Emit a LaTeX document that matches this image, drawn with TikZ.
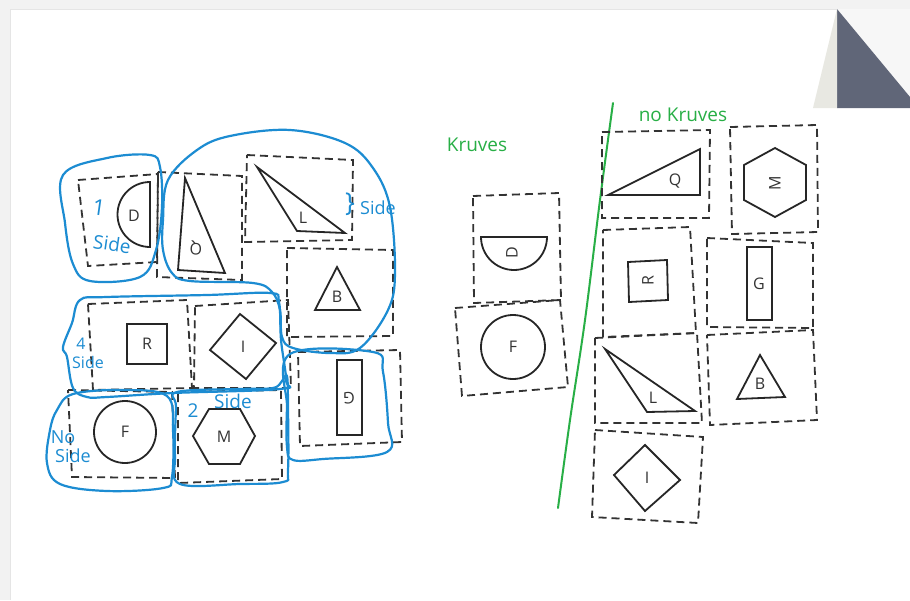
\documentclass[tikz,border=0pt]{standalone}
\usepackage{fontspec}
\setmainfont{Open Sans}
\usetikzlibrary{positioning}
\definecolor{penblue}{RGB}{28,140,210}
\definecolor{pengreen}{RGB}{40,175,70}
\definecolor{foldgray}{RGB}{96,102,120}
\definecolor{foldlight}{RGB}{232,232,226}
\tikzstyle{tile}      = [draw=black!80, line width=1.8pt, dash pattern=on 8pt off 5pt]
\tikzstyle{piece}     = [draw=black!85, line width=1.8pt, line join=miter]
\tikzstyle{lbl}       = [font=\fontsize{16}{16}\selectfont, text=black!80, inner sep=0pt]
\tikzstyle{loopline}  = [draw=penblue, line width=2.2pt, line cap=round]
\tikzstyle{bluenote}  = [text=penblue, font=\fontsize{19}{19}\selectfont, inner sep=0pt]
\tikzstyle{greennote} = [text=pengreen, font=\fontsize{19}{19}\selectfont, inner sep=0pt]

\begin{document}
\begin{tikzpicture}[x=1pt, y=-1pt]
\useasboundingbox (0,0) rectangle (910,600);
% page and folded corner
\fill[black!5] (0,0) rectangle (910,600);
\fill[white] (10,9) rectangle (910,600);
\draw[black!10, line width=1pt] (10,600) -- (10,9) -- (837,9);
\fill[black!3] (837,9) -- (910,9) -- (910,97) -- cycle;
\fill[foldgray] (837,9) -- (910,97) -- (910,108) -- (837,108) -- cycle;
\fill[foldlight] (837,9) -- (813,108) -- (837,108) -- cycle;

% ---- left group: tiles
\draw[tile] (78,180) -- (158,174) -- (157,262) -- (88,266) -- cycle;
\draw[tile] (158,172) -- (242,176) -- (242,280) -- (157,277) -- cycle;
\draw[tile] (247,155) -- (353,160) -- (352,240) -- (245,242) -- cycle;
\draw[tile] (287,248) -- (393,250) -- (393,336) -- (287,337) -- cycle;
\draw[tile] (88,304) -- (187,300) -- (192,388) -- (93,390) -- cycle;
\draw[tile] (195,306) -- (288,300) -- (291,388) -- (194,388) -- cycle;
\draw[tile] (298,352) -- (400,350) -- (402,442) -- (300,446) -- cycle;
\draw[tile] (68,390) -- (172,392) -- (175,478) -- (72,477) -- cycle;
\draw[tile] (178,392) -- (281,390) -- (282,479) -- (178,483) -- cycle;

% ---- left group: pieces
\draw[piece] (150,182) arc[start angle=270, end angle=90, radius=32.5] -- cycle;
\node[lbl] (leftD) at (134,216) {D};
\draw[piece] (185,178) -- (178,270) -- (225,273) -- cycle;
\node[lbl, rotate=180] (leftQ) at (196,248) {Q};
\draw[piece] (257,167) -- (297,231) -- (345,233) -- cycle;
\node[lbl] (leftL) at (303,218) {L};
\draw[piece] (337,267) -- (315,310) -- (360,310) -- cycle;
\node[lbl] (leftB) at (337,297) {B};
\draw[piece] (127,324) rectangle (167,364);
\node[lbl] (leftR) at (147,344) {R};
\draw[piece] (240,314) -- (276,343) -- (246,379) -- (210,350) -- cycle;
\node[lbl] (leftI) at (243,347) {I};
\draw[piece] (337,360) rectangle (362,435);
\node[lbl, rotate=180] (leftG) at (349,398) {G};
\draw[piece] (125,432) circle[radius=31];
\node[lbl] (leftF) at (125,432) {F};
\draw[piece] (193,436) -- (209,409) -- (240,409) -- (255,436) -- (240,464) -- (209,464) -- cycle;
\node[lbl] (leftM) at (224,437) {M};

% ---- left group: blue loops
\draw[loopline] plot[smooth cycle, tension=0.6] coordinates {(63,175) (107,158) (150,155) (160,167) (162,207) (156,250) (140,277) (90,281) (73,264) (65,223)};
\draw[loopline] plot[smooth cycle, tension=0.6] coordinates {(168,180) (197,150) (230,136) (290,130) (345,143) (373,168) (390,207) (395,273) (388,310) (360,348) (330,353) (293,348) (282,337) (280,310) (272,292) (253,283) (190,281) (172,273) (163,250) (163,220)};
\draw[loopline] plot[smooth cycle, tension=0.6] coordinates {(80,300) (107,297) (207,295) (270,293) (279,302) (281,340) (286,380) (280,389) (173,393) (107,397) (87,397) (73,388) (67,357) (63,347) (72,323)};
\draw[loopline] plot[smooth cycle, tension=0.6] coordinates {(57,410) (73,394) (123,390) (167,396) (173,430) (172,477) (163,488) (107,491) (60,484) (47,463) (50,430)};
\draw[loopline] plot[smooth cycle, tension=0.6] coordinates {(177,392) (240,389) (273,388) (282,381) (287,376) (288,407) (288,470) (283,482) (240,484) (180,484) (175,457) (176,407)};
\draw[loopline] plot[smooth cycle, tension=0.6] coordinates {(290,354) (373,352) (383,372) (388,423) (387,452) (323,459) (293,460) (287,447) (287,407)};

% ---- left group: blue notes
\node[bluenote, font=\fontsize{22}{22}\selectfont, rotate=-8] (oneA) at (99,208) {1};
\node[bluenote, rotate=-8] (oneB) at (112,244) {Side};
\node[bluenote, font=\fontsize{26}{26}\selectfont] (braceL) at (350,204) {\}};
\node[bluenote, font=\fontsize{18}{18}\selectfont] (sideL) at (378,208) {Side};
\node[bluenote, font=\fontsize{16}{16}\selectfont] (fourA) at (81,344) {4};
\node[bluenote, font=\fontsize{16}{16}\selectfont] (fourB) at (88,362) {Side};
\node[bluenote, font=\fontsize{18}{18}\selectfont] (noA) at (63,437) {No};
\node[bluenote, font=\fontsize{18}{18}\selectfont] (noB) at (73,456) {Side};
\node[bluenote] (twoA) at (193,411) {2};
\node[bluenote] (twoB) at (233,401) {Side};

% ---- middle: kruves
\node[greennote] (kruves) at (477,145) {Kruves};
\draw[tile] (473,196) -- (559,193) -- (561,300) -- (474,303) -- cycle;
\draw[tile] (455,308) -- (560,300) -- (568,387) -- (462,396) -- cycle;
\draw[piece] (481,237) arc[start angle=180, end angle=0, radius=33] -- cycle;
\node[lbl, rotate=90] (midD) at (512,253) {D};
\draw[piece] (513,347) circle[radius=32];
\node[lbl] (midF) at (513,347) {F};

% green divider
\draw[pengreen, line width=2pt, line cap=round] plot[smooth, tension=0.6] coordinates {(613,103) (600,200) (585,320) (570,420) (558,508)};

% ---- right: no kruves
\node[greennote] (nokruves) at (683,115) {no Kruves};
\draw[tile] (602,132) -- (710,130) -- (709,218) -- (602,218) -- cycle;
\draw[tile] (730,127) -- (817,125) -- (818,232) -- (732,234) -- cycle;
\draw[tile] (603,230) -- (690,227) -- (696,333) -- (603,337) -- cycle;
\draw[tile] (707,238) -- (813,243) -- (813,328) -- (707,327) -- cycle;
\draw[tile] (595,338) -- (697,333) -- (702,423) -- (595,423) -- cycle;
\draw[tile] (707,335) -- (813,330) -- (817,420) -- (710,425) -- cycle;
\draw[tile] (595,430) -- (703,437) -- (698,523) -- (592,517) -- cycle;

\draw[piece] (608,195) -- (700,149) -- (700,195) -- cycle;
\node[lbl] (rightQ) at (675,181) {Q};
\draw[piece] (775,148) -- (806,165) -- (806,200) -- (775,217) -- (744,200) -- (744,165) -- cycle;
\node[lbl, rotate=90] (rightM) at (775,183) {M};
\draw[piece] (628,262) -- (667,260) -- (668,300) -- (629,302) -- cycle;
\node[lbl, rotate=90] (rightR) at (648,281) {R};
\draw[piece] (747,247) rectangle (772,320);
\node[lbl] (rightG) at (759,284) {G};
\draw[piece] (605,349) -- (647,412) -- (695,411) -- cycle;
\node[lbl] (rightL) at (653,398) {L};
\draw[piece] (760,355) -- (737,399) -- (785,397) -- cycle;
\node[lbl] (rightB) at (760,384) {B};
\draw[piece] (645,445) -- (680,480) -- (645,511) -- (614,475) -- cycle;
\node[lbl] (rightI) at (647,478) {I};
\end{tikzpicture}
\end{document}
